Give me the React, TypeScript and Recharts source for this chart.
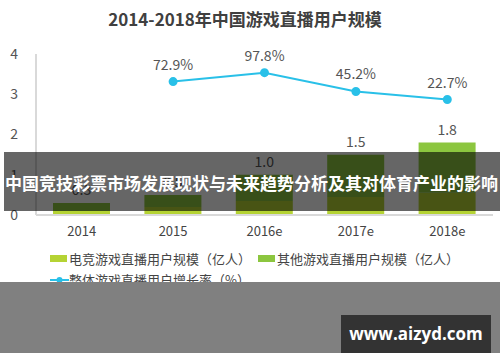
import React from 'react'
import { ComposedChart, Bar, Line, XAxis, YAxis, LabelList, Legend } from 'recharts'

const YEARS = ['2014', '2015', '2016e', '2017e', '2018e']
const ESPORTS = [0.1, 0.2, 0.35, 0.45, 0.55]
const OTHERS = [0.2, 0.3, 0.65, 1.05, 1.25]
const TOTALS = [0.3, 0.5, 1.0, 1.5, 1.8]
const GROWTH = [null, 72.9, 97.8, 45.2, 22.7]
const Y_TICKS = [0, 1, 2, 3, 4]

const NAMES = {
  esports: '电竞游戏直播用户规模（亿人）',
  others: '其他游戏直播用户规模（亿人）',
  growth: '整体游戏直播用户增长率（%）',
}

const COLORS = { esports: '#b5d334', others: '#8cc63f', growth: '#29c0e8' }

const FONT = '"Noto Sans CJK SC", "Noto Sans", sans-serif'

const data = YEARS.map((year, i) => ({
  year,
  esports: ESPORTS[i],
  others: OTHERS[i],
  total: TOTALS[i],
  growth: GROWTH[i],
}))

const renderLegend = () => (
  <div style={{ fontFamily: FONT, fontSize: 13, color: '#444', lineHeight: '21px' }}>
    <div style={{ display: 'flex', alignItems: 'center' }}>
      <span style={{ width: 17, height: 7, background: COLORS.esports, marginRight: 2 }} />
      <span style={{ marginRight: 7 }}>{NAMES.esports}</span>
      <span style={{ width: 17, height: 7, background: COLORS.others, marginRight: 2 }} />
      <span>{NAMES.others}</span>
    </div>
    <div style={{ display: 'flex', alignItems: 'center' }}>
      <svg width={19} height={8} style={{ marginRight: 0 }}>
        <line x1={0} y1={4} x2={19} y2={4} stroke={COLORS.growth} strokeWidth={2} />
        <circle cx={9.5} cy={4} r={3} fill={COLORS.growth} />
      </svg>
      <span>{NAMES.growth}</span>
    </div>
  </div>
)

export default function App() {
  return (
    <div style={{ position: 'absolute', left: 0, top: 0, width: 500, height: 362, background: '#fff', overflow: 'hidden' }}>
      <div style={{ position: 'absolute', top: 6, left: 0, width: 490, textAlign: 'center', fontFamily: FONT, fontWeight: 'bold', fontSize: 17, color: '#404040', lineHeight: '26px' }}>
        2014-2018年中国游戏直播用户规模
      </div>
      <ComposedChart width={500} height={362} data={data} margin={{ top: 54, right: 7, left: 0, bottom: 117 }} barSize={57}>
        <XAxis dataKey="year" axisLine={{ stroke: '#d9d9d9', strokeWidth: 2 }} tickLine={false} tickSize={0} tickMargin={12} height={30}
          tick={{ fill: '#444', fontSize: 13, fontFamily: FONT }} />
        <YAxis yAxisId="l" domain={[0, 4]} ticks={Y_TICKS} width={36} axisLine={{ stroke: '#d9d9d9', strokeWidth: 2 }} tickLine={false} tickSize={0} tickMargin={18}
          tick={{ fill: '#555', fontSize: 14, fontFamily: FONT }} />
        <YAxis yAxisId="r" orientation="right" domain={[-300, 150]} hide />
        <Bar yAxisId="l" dataKey="esports" stackId="a" fill={COLORS.esports} name={NAMES.esports} isAnimationActive={false} />
        <Bar yAxisId="l" dataKey="others" stackId="a" fill={COLORS.others} name={NAMES.others} isAnimationActive={false}>
          <LabelList valueAccessor={(e: any) => (e.payload ? e.payload.total : e.total)} position="top" offset={8}
            formatter={(v: any) => Number(v).toFixed(1)} style={{ fill: '#555', fontSize: 14, fontFamily: FONT }} />
        </Bar>
        <Line yAxisId="r" dataKey="growth" stroke={COLORS.growth} strokeWidth={2} name={NAMES.growth}
          dot={{ r: 3.5, fill: COLORS.growth, stroke: COLORS.growth }} connectNulls={false} isAnimationActive={false}>
          <LabelList dataKey="growth" position="top" offset={12} formatter={(v: any) => (v == null ? '' : `${v}%`)}
            style={{ fill: '#555', fontSize: 14, fontFamily: FONT }} />
        </Line>
        <Legend verticalAlign="middle" align="center" layout="horizontal" content={renderLegend}
          wrapperStyle={{ position: 'absolute', top: 248, left: 50, width: 440 }} />
      </ComposedChart>
      <div style={{ position: 'absolute', top: 152, left: 4, width: 496, height: 59, background: 'rgba(0,0,0,0.6)', color: '#fff',
        fontFamily: FONT, fontWeight: 'bold', fontSize: 17, lineHeight: '62px', whiteSpace: 'nowrap', paddingLeft: 1, boxSizing: 'border-box' }}>
        中国竞技彩票市场发展现状与未来趋势分析及其对体育产业的影响
      </div>
      <div style={{ position: 'absolute', top: 282, left: 0, width: 500, height: 71, background: '#808080' }} />
      <div style={{ position: 'absolute', top: 315, left: 341, width: 150, height: 38, background: '#333', color: '#fff',
        fontFamily: '"Open Sans", sans-serif', fontWeight: 'bold', fontSize: 17, lineHeight: '38px', textAlign: 'center' }}>
        www.aizyd.com
      </div>
    </div>
  )
}
